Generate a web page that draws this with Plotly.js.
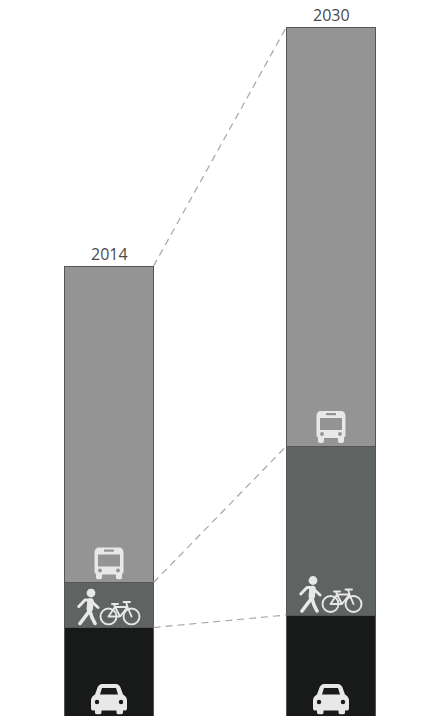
<!DOCTYPE html>
<html>
<head>
<meta charset="utf-8">
<script src="https://cdn.plot.ly/plotly-3.0.1.min.js"></script>
<style>html,body{margin:0;padding:0;background:#fff}#chart{width:421px;height:716px}</style>
</head>
<body>
<div id="chart"></div>
<script>
var years = [2014, 2030];
var yearLabels = ['2014', '2030'];
var carValues = [88.5, 101];
var walkBikeValues = [45, 169];
var busValues = [316.5, 419];
var carColor = '#181a19';
var walkBikeColor = '#5f6362';
var busColor = '#949494';
var iconColor = '#e8e8e8';

var barWidth = 6.42;
var walkTops = carValues.map(function (v, i) { return v + walkBikeValues[i]; });
var busTops = walkTops.map(function (v, i) { return v + busValues[i]; });

function uri(w, h, body) {
  return 'data:image/svg+xml;charset=utf-8,' + encodeURIComponent(
    '<svg xmlns="http://www.w3.org/2000/svg" width="' + w * 4 + '" height="' + h * 4 + '" viewBox="0 0 ' + w + ' ' + h + '">' + body + '</svg>');
}
var busIcon = uri(30, 33,
  '<path fill="' + iconColor + '" d="M5 1 H25 Q29 1 29.5 6 V25 Q29.5 27 28 27.5 V31 Q28 33 26 33 H24 Q22 33 22 31 V28 H8 V31 Q8 33 6 33 H4 Q2 33 2 31 V27.5 Q0.5 27 0.5 25 V6 Q1 1 5 1 Z"/>' +
  '<path fill="' + busColor + '" d="M4 8 H26 V20 H4 Z"/><rect x="10" y="3" width="10" height="2.2" fill="' + busColor + '"/>' +
  '<circle cx="6" cy="24" r="1.9" fill="' + busColor + '"/><circle cx="24" cy="24" r="1.9" fill="' + busColor + '"/>');
var walkBikeIcon = uri(64, 37,
  '<circle cx="14" cy="4.5" r="4.4" fill="' + iconColor + '"/>' +
  '<g fill="none" stroke="' + iconColor + '" stroke-linecap="round" stroke-linejoin="round">' +
  '<path stroke-width="6.5" d="M13.5 13 L12.8 20"/>' +
  '<path stroke-width="3" d="M1.8 18 L8 11.5 H13 L21 19"/>' +
  '<path stroke-width="3.6" d="M12.8 22 L7.5 29 L3 35 M12.8 22 L15 29 L18 35"/>' +
  '<g stroke-width="1.9"><circle cx="31.5" cy="28" r="8"/><circle cx="54.5" cy="28" r="8"/>' +
  '<path d="M31.5 28 L38 18.5 H50.5 L54.5 28 M38 18.5 L43 28 H31.5 M43 28 L50.5 18.5 M49 13.5 L50.5 18.5 M46.5 13.5 H53 M35 15.5 H41 M37 15.5 L38 18.5"/></g></g>');
var carIcon = uri(36, 31,
  '<path fill="' + iconColor + '" d="M11 0.5 H25 Q28 0.5 29.5 4 L32 11 Q36 13 36 17 V25 Q36 27 34 27 H32 V29 Q32 31 30 31 H27.5 Q25.5 31 25.5 29 V27 H10.5 V29 Q10.5 31 8.5 31 H6 Q4 31 4 29 V27 H2 Q0 27 0 25 V17 Q0 13 4 11 L6.5 4 Q8 0.5 11 0.5 Z"/>' +
  '<path fill="' + carColor + '" d="M11 4.5 H25 L27 11 H9 Z"/>' +
  '<circle cx="6" cy="18.5" r="2.2" fill="' + carColor + '"/><circle cx="30" cy="18.5" r="2.2" fill="' + carColor + '"/>');

var barLine = {color: '#555555', width: 1};
function barTrace(values, color) {
  return {type: 'bar', x: years, y: values, width: barWidth,
    marker: {color: color, line: barLine}, hoverinfo: 'skip', showlegend: false};
}
function connector(tops) {
  return {type: 'scatter', mode: 'lines',
    x: [years[0] + barWidth / 2, years[1] - barWidth / 2], y: tops,
    line: {color: '#a6a6a6', width: 1.2, dash: '7px,5px'}, hoverinfo: 'skip', showlegend: false};
}
var data = [
  barTrace(carValues, carColor),
  barTrace(walkBikeValues, walkBikeColor),
  barTrace(busValues, busColor),
  connector(carValues),
  connector(walkTops),
  connector(busTops)
];

var images = [];
function addIcon(src, i, bottom, w, h) {
  images.push({source: src, xref: 'x', yref: 'y', x: years[i], y: bottom + h,
    sizex: w * 16 / 222, sizey: h, xanchor: 'center', yanchor: 'top', sizing: 'stretch', layer: 'above'});
}
years.forEach(function (yr, i) {
  addIcon(carIcon, i, 1.5, 36, 31);
  addIcon(walkBikeIcon, i, carValues[i] + 2, 64, 37);
  addIcon(busIcon, i, walkTops[i] + 3, 30, 33);
});

var annotations = years.map(function (yr, i) {
  return {x: yr, y: busTops[i], yanchor: 'bottom', xanchor: 'center', yshift: -1,
    text: yearLabels[i], showarrow: false, font: {family: '"Open Sans", sans-serif', size: 16, color: '#4a4a4a'}};
});

var xLeft = years[0] - 109 * 16 / 222;
var xRight = years[0] + (421 - 109) * 16 / 222;
var layout = {
  width: 421, height: 716,
  margin: {l: 0, r: 0, t: 0, b: 0},
  paper_bgcolor: '#fff', plot_bgcolor: '#fff',
  barmode: 'stack',
  xaxis: {range: [xLeft, xRight], visible: false, fixedrange: true},
  yaxis: {range: [0, 716], visible: false, fixedrange: true},
  images: images,
  annotations: annotations
};
Plotly.newPlot('chart', data, layout, {displayModeBar: false, staticPlot: true});
</script>
</body>
</html>
